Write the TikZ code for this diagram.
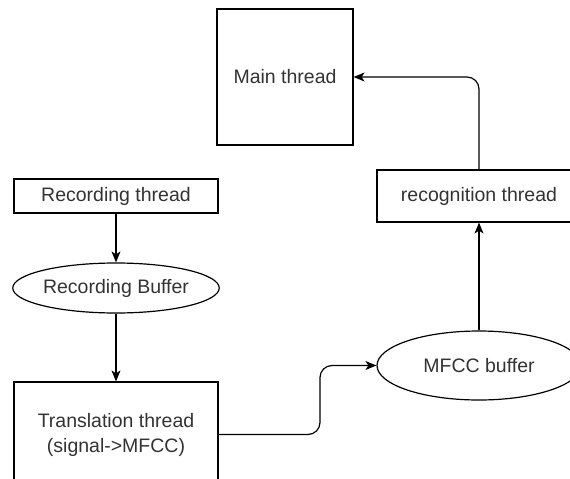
\documentclass[tikz,border=0pt]{standalone}
\usepackage{fontspec}
\setmainfont{Liberation Sans}
\usetikzlibrary{shapes.geometric,arrows.meta}
\definecolor{txt}{HTML}{333333}
\tikzset{
  box/.style={draw=black, line width=1.2pt, fill=white, inner sep=0pt, text=txt, align=center,
     font=\fontsize{19.5}{25}\selectfont},
  oval/.style={box, ellipse},
  conn/.style={draw=black, line width=1.2pt, -{Stealth[length=11pt,width=9pt,inset=3pt]}, rounded corners=12pt}
}
\begin{document}
\begin{tikzpicture}[x=1pt,y=-1pt]
\useasboundingbox (0,0) rectangle (570,479);
\clip (0,0) rectangle (570,479);
\fill[white] (0,0) rectangle (570,479);
\node[box, minimum width=136pt, minimum height=136pt] (main) at (285,77) {Main thread};
\node[box, minimum width=204pt, minimum height=34pt] (rec) at (116,196) {Recording thread};
\node[oval, minimum width=188pt, minimum height=50pt] (rbuf) at (116,288) {Recording Buffer};
\node[box, minimum width=204pt, minimum height=105pt] (trans) at (116,434.5) {Translation thread\\(signal->MFCC)};
\node[oval, minimum width=204pt, minimum height=69pt] (mfcc) at (479,365.5) {MFCC buffer};
\node[box, minimum width=204pt, minimum height=52pt] (recog) at (479,196) {recognition thread};
\coordinate (c1) at (320,434.5);
\coordinate (c2) at (320,365.5);
\coordinate (c3) at (479,77);
\draw[conn] (rec.south) -- (rbuf.north);
\draw[conn] (rbuf.south) -- (trans.north);
\draw[conn] (trans.east) -- (c1) -- (c2) -- (mfcc.west);
\draw[conn] (mfcc.north) -- (recog.south);
\draw[conn] (recog.north) -- (c3) -- (main.east);
\end{tikzpicture}
\end{document}
